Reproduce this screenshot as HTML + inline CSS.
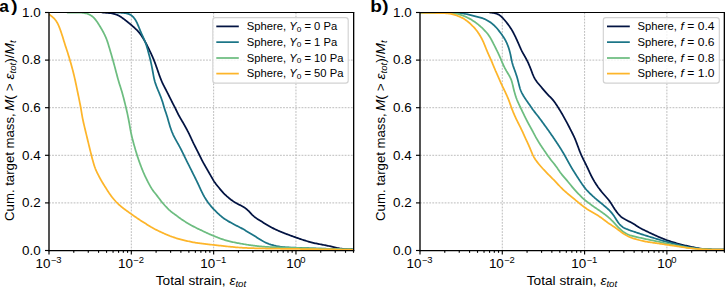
<!DOCTYPE html><html><head><meta charset="utf-8"><style>html,body{margin:0;padding:0;background:#fff;width:725px;height:289px;overflow:hidden}svg{display:block}text{font-family:"Liberation Sans",sans-serif;fill:#000}</style></head><body>
<svg width="725" height="289" viewBox="0 0 725 289">
<rect width="725" height="289" fill="#fff"/>
<defs>
<clipPath id="clipa"><rect x="49.00" y="12.50" width="304.50" height="238.00"/></clipPath>
<clipPath id="clipb"><rect x="420.00" y="12.50" width="304.40" height="238.00"/></clipPath>
</defs>
<g stroke="#b0b0b0" stroke-width="0.85" stroke-dasharray="1.8,1.28"><line x1="49.00" y1="202.90" x2="353.50" y2="202.90"/><line x1="49.00" y1="155.30" x2="353.50" y2="155.30"/><line x1="49.00" y1="107.70" x2="353.50" y2="107.70"/><line x1="49.00" y1="60.10" x2="353.50" y2="60.10"/><line x1="131.32" y1="12.50" x2="131.32" y2="250.50"/><line x1="213.64" y1="12.50" x2="213.64" y2="250.50"/><line x1="295.96" y1="12.50" x2="295.96" y2="250.50"/></g>
<g clip-path="url(#clipa)" fill="none" stroke-width="1.75" stroke-linejoin="round" stroke-linecap="round">
<path d="M102.00,12.50 L103.00,12.57 L104.00,12.63 L104.99,12.70 L105.99,12.77 L106.99,12.84 L107.98,12.92 L108.98,13.01 L109.97,13.12 L110.96,13.24 L111.94,13.40 L112.92,13.58 L113.88,13.81 L114.84,14.07 L115.77,14.38 L116.70,14.74 L117.60,15.14 L118.49,15.58 L119.37,16.06 L120.22,16.56 L121.07,17.09 L121.90,17.64 L122.71,18.21 L123.52,18.80 L124.33,19.39 L125.12,20.00 L125.91,20.61 L126.70,21.23 L127.48,21.85 L128.26,22.48 L129.04,23.11 L129.81,23.74 L130.58,24.38 L131.34,25.03 L132.10,25.68 L132.85,26.34 L133.60,27.00 L134.34,27.67 L135.08,28.35 L135.80,29.04 L136.51,29.73 L137.22,30.44 L137.90,31.17 L138.57,31.91 L139.21,32.67 L139.83,33.44 L140.43,34.24 L141.01,35.05 L141.56,35.88 L142.11,36.71 L142.65,37.55 L143.18,38.40 L143.70,39.26 L144.21,40.11 L144.71,40.98 L145.20,41.85 L145.68,42.72 L146.15,43.61 L146.62,44.49 L147.07,45.38 L147.52,46.28 L147.96,47.17 L148.40,48.07 L148.84,48.97 L149.28,49.87 L149.72,50.77 L150.15,51.67 L150.58,52.57 L151.00,53.48 L151.42,54.38 L151.84,55.29 L152.24,56.21 L152.65,57.12 L153.04,58.04 L153.43,58.96 L153.81,59.89 L154.18,60.81 L154.54,61.75 L154.90,62.68 L155.25,63.62 L155.60,64.55 L155.94,65.49 L156.28,66.44 L156.61,67.38 L156.94,68.32 L157.27,69.27 L157.60,70.21 L157.93,71.16 L158.25,72.10 L158.58,73.04 L158.91,73.99 L159.25,74.93 L159.59,75.87 L159.93,76.81 L160.28,77.75 L160.64,78.68 L161.01,79.61 L161.39,80.53 L161.78,81.45 L162.19,82.36 L162.61,83.27 L163.04,84.17 L163.48,85.06 L163.94,85.96 L164.39,86.84 L164.86,87.73 L165.32,88.62 L165.78,89.51 L166.24,90.39 L166.69,91.28 L167.15,92.17 L167.60,93.07 L168.05,93.96 L168.51,94.85 L168.96,95.74 L169.40,96.64 L169.85,97.53 L170.30,98.43 L170.74,99.32 L171.18,100.22 L171.63,101.11 L172.08,102.01 L172.53,102.90 L172.99,103.79 L173.45,104.67 L173.91,105.56 L174.38,106.44 L174.84,107.33 L175.29,108.22 L175.73,109.12 L176.17,110.01 L176.60,110.91 L177.02,111.81 L177.46,112.71 L177.90,113.60 L178.36,114.49 L178.84,115.37 L179.32,116.24 L179.82,117.11 L180.31,117.98 L180.82,118.84 L181.32,119.71 L181.82,120.57 L182.32,121.44 L182.82,122.31 L183.31,123.17 L183.80,124.05 L184.29,124.92 L184.78,125.79 L185.26,126.66 L185.75,127.54 L186.23,128.42 L186.71,129.29 L187.18,130.18 L187.65,131.06 L188.11,131.95 L188.57,132.84 L189.01,133.73 L189.45,134.63 L189.88,135.53 L190.31,136.43 L190.73,137.34 L191.15,138.25 L191.56,139.16 L191.98,140.07 L192.41,140.97 L192.83,141.88 L193.27,142.78 L193.70,143.68 L194.15,144.57 L194.59,145.47 L195.04,146.36 L195.49,147.25 L195.95,148.14 L196.40,149.04 L196.85,149.93 L197.30,150.82 L197.75,151.71 L198.20,152.61 L198.65,153.50 L199.09,154.40 L199.54,155.29 L199.98,156.19 L200.42,157.09 L200.86,157.98 L201.31,158.88 L201.76,159.77 L202.22,160.66 L202.69,161.54 L203.16,162.42 L203.64,163.30 L204.13,164.17 L204.62,165.04 L205.12,165.91 L205.61,166.78 L206.11,167.64 L206.61,168.51 L207.11,169.37 L207.61,170.24 L208.12,171.10 L208.62,171.97 L209.12,172.83 L209.62,173.70 L210.11,174.57 L210.60,175.44 L211.09,176.31 L211.58,177.18 L212.08,178.05 L212.58,178.92 L213.08,179.78 L213.60,180.63 L214.14,181.47 L214.70,182.30 L215.28,183.11 L215.87,183.91 L216.48,184.70 L217.10,185.49 L217.73,186.26 L218.36,187.04 L219.00,187.81 L219.64,188.58 L220.28,189.34 L220.92,190.11 L221.57,190.87 L222.22,191.62 L222.89,192.37 L223.57,193.10 L224.27,193.81 L224.98,194.51 L225.70,195.20 L226.43,195.88 L227.18,196.54 L227.94,197.19 L228.70,197.83 L229.48,198.46 L230.26,199.08 L231.05,199.69 L231.86,200.28 L232.68,200.85 L233.51,201.41 L234.35,201.95 L235.20,202.47 L236.06,202.97 L236.93,203.46 L237.81,203.94 L238.69,204.41 L239.57,204.88 L240.46,205.34 L241.34,205.80 L242.22,206.28 L243.09,206.76 L243.95,207.27 L244.78,207.81 L245.59,208.37 L246.38,208.97 L247.13,209.61 L247.86,210.28 L248.56,210.98 L249.25,211.70 L249.93,212.43 L250.61,213.16 L251.29,213.88 L251.99,214.59 L252.71,215.28 L253.44,215.95 L254.20,216.60 L254.98,217.22 L255.78,217.82 L256.59,218.39 L257.42,218.95 L258.26,219.49 L259.10,220.02 L259.95,220.55 L260.80,221.08 L261.65,221.60 L262.50,222.12 L263.36,222.65 L264.21,223.17 L265.06,223.69 L265.92,224.21 L266.77,224.72 L267.63,225.23 L268.50,225.74 L269.36,226.24 L270.23,226.73 L271.11,227.22 L271.99,227.69 L272.87,228.15 L273.76,228.60 L274.66,229.04 L275.56,229.47 L276.47,229.89 L277.38,230.30 L278.30,230.70 L279.22,231.09 L280.14,231.48 L281.06,231.86 L281.99,232.24 L282.92,232.61 L283.85,232.99 L284.77,233.35 L285.71,233.72 L286.64,234.07 L287.58,234.43 L288.51,234.78 L289.45,235.13 L290.39,235.47 L291.33,235.82 L292.27,236.16 L293.21,236.50 L294.15,236.84 L295.09,237.18 L296.03,237.52 L296.97,237.85 L297.91,238.18 L298.86,238.51 L299.81,238.83 L300.75,239.15 L301.70,239.47 L302.65,239.78 L303.60,240.09 L304.55,240.40 L305.51,240.70 L306.46,240.99 L307.42,241.28 L308.38,241.57 L309.34,241.84 L310.30,242.10 L311.27,242.36 L312.24,242.60 L313.21,242.84 L314.18,243.06 L315.16,243.28 L316.14,243.48 L317.12,243.68 L318.10,243.87 L319.08,244.06 L320.06,244.25 L321.05,244.44 L322.03,244.63 L323.01,244.82 L323.99,245.01 L324.97,245.20 L325.95,245.39 L326.94,245.59 L327.92,245.78 L328.89,245.99 L329.87,246.20 L330.85,246.41 L331.82,246.63 L332.80,246.86 L333.77,247.09 L334.74,247.32 L335.71,247.55 L336.69,247.77 L337.67,247.99 L338.64,248.18 L339.63,248.37 L340.61,248.53 L341.60,248.68 L342.59,248.82 L343.58,248.93 L344.57,249.04 L345.57,249.13 L346.57,249.21 L347.56,249.29 L348.56,249.35 L349.56,249.42 L350.55,249.48 L351.55,249.54 L352.55,249.61 L353.54,249.67 L354.54,249.74 L355.53,249.81 L356.52,249.89 L357.51,249.96 L358.00,250.00" stroke="#021342"/>
<path d="M116.50,12.50 L117.50,12.54 L118.50,12.59 L119.49,12.64 L120.49,12.70 L121.49,12.77 L122.48,12.85 L123.48,12.95 L124.47,13.06 L125.45,13.19 L126.42,13.35 L127.37,13.56 L128.30,13.83 L129.21,14.17 L130.07,14.59 L130.90,15.08 L131.69,15.64 L132.44,16.27 L133.14,16.95 L133.80,17.68 L134.41,18.45 L134.99,19.25 L135.52,20.08 L136.02,20.94 L136.49,21.82 L136.93,22.71 L137.35,23.61 L137.75,24.53 L138.14,25.45 L138.52,26.37 L138.89,27.30 L139.27,28.23 L139.65,29.15 L140.03,30.08 L140.41,31.00 L140.80,31.92 L141.19,32.84 L141.59,33.76 L141.99,34.67 L142.40,35.58 L142.82,36.49 L143.23,37.40 L143.65,38.31 L144.06,39.22 L144.46,40.14 L144.85,41.06 L145.22,41.98 L145.57,42.92 L145.90,43.86 L146.21,44.81 L146.51,45.76 L146.81,46.72 L147.09,47.67 L147.36,48.63 L147.64,49.60 L147.91,50.56 L148.17,51.52 L148.43,52.49 L148.70,53.45 L148.95,54.42 L149.21,55.39 L149.46,56.35 L149.71,57.32 L149.95,58.29 L150.19,59.26 L150.43,60.24 L150.66,61.21 L150.88,62.18 L151.10,63.16 L151.31,64.14 L151.51,65.12 L151.72,66.09 L151.91,67.07 L152.11,68.06 L152.30,69.04 L152.48,70.02 L152.66,71.00 L152.84,71.99 L153.01,72.97 L153.19,73.96 L153.36,74.94 L153.54,75.92 L153.73,76.91 L153.93,77.88 L154.14,78.86 L154.38,79.83 L154.63,80.80 L154.90,81.76 L155.20,82.71 L155.51,83.66 L155.84,84.60 L156.18,85.54 L156.53,86.47 L156.89,87.41 L157.26,88.33 L157.64,89.26 L158.01,90.19 L158.40,91.11 L158.78,92.03 L159.17,92.96 L159.55,93.88 L159.93,94.80 L160.31,95.73 L160.67,96.66 L161.03,97.59 L161.38,98.53 L161.72,99.47 L162.04,100.42 L162.36,101.36 L162.66,102.32 L162.96,103.27 L163.24,104.23 L163.52,105.19 L163.79,106.15 L164.07,107.11 L164.36,108.07 L164.65,109.02 L164.96,109.97 L165.28,110.91 L165.61,111.86 L165.93,112.80 L166.25,113.75 L166.56,114.69 L166.87,115.65 L167.16,116.60 L167.45,117.56 L167.73,118.52 L168.00,119.48 L168.28,120.44 L168.55,121.40 L168.82,122.37 L169.10,123.33 L169.38,124.29 L169.66,125.24 L169.95,126.20 L170.26,127.15 L170.57,128.10 L170.90,129.05 L171.24,129.98 L171.59,130.92 L171.95,131.85 L172.33,132.77 L172.73,133.69 L173.13,134.61 L173.55,135.51 L173.99,136.41 L174.44,137.30 L174.90,138.19 L175.37,139.07 L175.85,139.95 L176.34,140.82 L176.83,141.69 L177.32,142.56 L177.81,143.43 L178.30,144.30 L178.79,145.18 L179.27,146.05 L179.74,146.93 L180.21,147.82 L180.68,148.70 L181.13,149.59 L181.59,150.48 L182.04,151.38 L182.48,152.27 L182.92,153.17 L183.36,154.07 L183.80,154.97 L184.23,155.87 L184.66,156.77 L185.10,157.67 L185.53,158.57 L185.97,159.47 L186.41,160.37 L186.85,161.27 L187.30,162.16 L187.74,163.05 L188.20,163.95 L188.65,164.84 L189.10,165.73 L189.55,166.63 L190.00,167.52 L190.45,168.41 L190.89,169.31 L191.34,170.20 L191.78,171.10 L192.23,171.99 L192.67,172.89 L193.11,173.79 L193.56,174.68 L194.00,175.58 L194.45,176.47 L194.89,177.37 L195.34,178.26 L195.78,179.16 L196.23,180.05 L196.67,180.95 L197.11,181.85 L197.54,182.75 L197.97,183.66 L198.39,184.56 L198.81,185.47 L199.23,186.38 L199.65,187.29 L200.07,188.19 L200.48,189.10 L200.91,190.01 L201.33,190.91 L201.76,191.81 L202.20,192.71 L202.65,193.60 L203.11,194.49 L203.59,195.37 L204.07,196.24 L204.57,197.11 L205.09,197.97 L205.61,198.82 L206.14,199.66 L206.69,200.50 L207.25,201.32 L207.83,202.14 L208.41,202.95 L209.01,203.74 L209.63,204.53 L210.26,205.30 L210.91,206.07 L211.56,206.82 L212.23,207.57 L212.90,208.30 L213.58,209.04 L214.27,209.76 L214.97,210.48 L215.67,211.19 L216.37,211.90 L217.09,212.59 L217.82,213.28 L218.55,213.96 L219.29,214.63 L220.04,215.29 L220.80,215.95 L221.56,216.59 L222.34,217.22 L223.12,217.83 L223.92,218.43 L224.73,219.01 L225.56,219.56 L226.40,220.10 L227.25,220.62 L228.11,221.13 L228.98,221.62 L229.85,222.12 L230.72,222.60 L231.59,223.09 L232.47,223.57 L233.35,224.05 L234.23,224.52 L235.11,224.98 L236.00,225.43 L236.90,225.88 L237.79,226.32 L238.69,226.76 L239.58,227.21 L240.47,227.66 L241.35,228.14 L242.22,228.62 L243.09,229.11 L243.96,229.61 L244.82,230.12 L245.68,230.63 L246.54,231.14 L247.40,231.66 L248.25,232.17 L249.11,232.68 L249.97,233.20 L250.83,233.71 L251.68,234.23 L252.54,234.75 L253.39,235.27 L254.24,235.79 L255.09,236.33 L255.93,236.86 L256.77,237.41 L257.61,237.95 L258.45,238.50 L259.29,239.04 L260.13,239.57 L260.98,240.09 L261.84,240.60 L262.71,241.09 L263.59,241.56 L264.48,242.01 L265.38,242.44 L266.29,242.86 L267.21,243.25 L268.13,243.62 L269.06,243.98 L270.01,244.31 L270.95,244.62 L271.91,244.91 L272.87,245.18 L273.84,245.44 L274.81,245.67 L275.78,245.90 L276.76,246.10 L277.74,246.29 L278.72,246.46 L279.71,246.62 L280.70,246.76 L281.69,246.89 L282.68,247.00 L283.67,247.10 L284.67,247.19 L285.67,247.26 L286.66,247.33 L287.66,247.39 L288.66,247.45 L289.66,247.50 L290.66,247.55 L291.66,247.59 L292.66,247.63 L293.65,247.67 L294.65,247.71 L295.65,247.74 L296.65,247.78 L297.65,247.82 L298.65,247.85 L299.65,247.89 L300.65,247.93 L301.65,247.96 L302.65,248.00 L303.65,248.04 L304.65,248.08 L305.65,248.11 L306.65,248.15 L307.64,248.19 L308.64,248.22 L309.64,248.26 L310.64,248.30 L311.64,248.33 L312.64,248.37 L313.64,248.40 L314.64,248.43 L315.64,248.46 L316.64,248.50 L317.64,248.53 L318.64,248.56 L319.64,248.58 L320.64,248.61 L321.64,248.64 L322.64,248.66 L323.64,248.69 L324.64,248.71 L325.64,248.73 L326.64,248.75 L327.64,248.77 L328.64,248.79 L329.64,248.81 L330.64,248.83 L331.64,248.85 L332.64,248.87 L333.64,248.88 L334.63,248.90 L335.63,248.92 L336.63,248.94 L337.63,248.96 L338.63,248.98 L339.63,248.99 L340.63,249.01 L341.63,249.03 L342.63,249.05 L343.63,249.07 L344.63,249.09 L345.63,249.11 L346.63,249.13 L347.63,249.15 L348.63,249.17 L349.62,249.19 L350.61,249.21 L351.60,249.23 L352.58,249.25 L353.55,249.27 L354.52,249.29 L355.00,249.30" stroke="#1b7587"/>
<path d="M67.50,12.50 L68.50,12.50 L69.50,12.50 L70.50,12.50 L71.50,12.51 L72.50,12.51 L73.50,12.52 L74.50,12.52 L75.50,12.53 L76.50,12.55 L77.50,12.57 L78.50,12.59 L79.50,12.63 L80.49,12.68 L81.49,12.75 L82.48,12.84 L83.47,12.95 L84.46,13.09 L85.43,13.27 L86.40,13.49 L87.34,13.76 L88.27,14.08 L89.18,14.46 L90.06,14.90 L90.90,15.39 L91.71,15.94 L92.49,16.55 L93.23,17.20 L93.93,17.89 L94.61,18.61 L95.25,19.37 L95.87,20.15 L96.46,20.95 L97.03,21.77 L97.59,22.59 L98.13,23.43 L98.67,24.28 L99.20,25.12 L99.72,25.98 L100.24,26.83 L100.75,27.69 L101.26,28.55 L101.76,29.41 L102.26,30.28 L102.75,31.15 L103.22,32.03 L103.69,32.92 L104.14,33.81 L104.58,34.70 L105.01,35.61 L105.43,36.51 L105.83,37.43 L106.21,38.35 L106.58,39.28 L106.93,40.21 L107.27,41.15 L107.59,42.10 L107.89,43.05 L108.19,44.00 L108.49,44.96 L108.77,45.92 L109.06,46.88 L109.34,47.83 L109.63,48.79 L109.91,49.75 L110.20,50.71 L110.48,51.67 L110.76,52.63 L111.04,53.59 L111.32,54.55 L111.60,55.51 L111.88,56.47 L112.16,57.43 L112.43,58.39 L112.71,59.35 L112.98,60.32 L113.24,61.28 L113.51,62.24 L113.77,63.21 L114.04,64.17 L114.30,65.14 L114.55,66.11 L114.81,67.07 L115.07,68.04 L115.32,69.00 L115.58,69.97 L115.83,70.94 L116.09,71.91 L116.34,72.87 L116.60,73.84 L116.85,74.81 L117.11,75.77 L117.37,76.74 L117.63,77.70 L117.89,78.67 L118.16,79.63 L118.43,80.59 L118.71,81.55 L119.00,82.51 L119.29,83.47 L119.60,84.42 L119.90,85.37 L120.21,86.32 L120.51,87.28 L120.82,88.23 L121.12,89.18 L121.41,90.14 L121.70,91.09 L121.98,92.05 L122.25,93.02 L122.52,93.98 L122.79,94.94 L123.05,95.91 L123.30,96.88 L123.55,97.84 L123.81,98.81 L124.05,99.78 L124.30,100.75 L124.55,101.72 L124.79,102.69 L125.03,103.66 L125.27,104.63 L125.51,105.60 L125.74,106.57 L125.98,107.55 L126.21,108.52 L126.44,109.49 L126.66,110.47 L126.88,111.44 L127.10,112.42 L127.32,113.39 L127.53,114.37 L127.74,115.35 L127.94,116.33 L128.14,117.31 L128.34,118.29 L128.53,119.27 L128.72,120.25 L128.90,121.23 L129.08,122.22 L129.26,123.20 L129.43,124.19 L129.60,125.17 L129.77,126.16 L129.94,127.14 L130.12,128.13 L130.30,129.11 L130.48,130.09 L130.67,131.07 L130.87,132.06 L131.07,133.03 L131.28,134.01 L131.50,134.99 L131.72,135.96 L131.95,136.93 L132.19,137.91 L132.43,138.88 L132.68,139.84 L132.93,140.81 L133.19,141.78 L133.45,142.74 L133.71,143.71 L133.98,144.67 L134.25,145.64 L134.52,146.60 L134.79,147.56 L135.07,148.52 L135.35,149.48 L135.63,150.44 L135.92,151.40 L136.21,152.35 L136.50,153.31 L136.80,154.27 L137.10,155.22 L137.40,156.17 L137.71,157.12 L138.03,158.07 L138.34,159.02 L138.67,159.97 L139.00,160.91 L139.33,161.85 L139.67,162.79 L140.01,163.73 L140.36,164.67 L140.71,165.61 L141.07,166.54 L141.43,167.47 L141.79,168.40 L142.16,169.33 L142.54,170.26 L142.92,171.18 L143.30,172.11 L143.70,173.02 L144.10,173.94 L144.51,174.85 L144.93,175.76 L145.35,176.67 L145.78,177.57 L146.22,178.47 L146.66,179.37 L147.10,180.26 L147.56,181.15 L148.01,182.04 L148.47,182.93 L148.94,183.81 L149.41,184.69 L149.89,185.57 L150.38,186.44 L150.88,187.31 L151.40,188.16 L151.93,189.00 L152.49,189.82 L153.07,190.63 L153.67,191.43 L154.28,192.21 L154.91,192.99 L155.53,193.77 L156.15,194.56 L156.77,195.34 L157.38,196.13 L157.98,196.93 L158.58,197.73 L159.18,198.53 L159.78,199.33 L160.38,200.13 L160.99,200.92 L161.61,201.70 L162.24,202.48 L162.88,203.24 L163.54,204.00 L164.20,204.75 L164.86,205.49 L165.54,206.23 L166.22,206.96 L166.92,207.68 L167.61,208.40 L168.32,209.10 L169.04,209.80 L169.77,210.47 L170.51,211.13 L171.28,211.77 L172.06,212.39 L172.85,212.99 L173.66,213.57 L174.46,214.16 L175.27,214.74 L176.08,215.32 L176.88,215.92 L177.68,216.52 L178.48,217.11 L179.29,217.71 L180.09,218.30 L180.91,218.88 L181.73,219.44 L182.56,220.00 L183.39,220.55 L184.23,221.10 L185.08,221.63 L185.93,222.16 L186.78,222.68 L187.64,223.19 L188.50,223.70 L189.36,224.20 L190.23,224.69 L191.10,225.18 L191.98,225.66 L192.86,226.14 L193.75,226.60 L194.63,227.06 L195.52,227.52 L196.42,227.97 L197.31,228.41 L198.21,228.85 L199.11,229.28 L200.01,229.72 L200.92,230.15 L201.82,230.58 L202.72,231.01 L203.63,231.43 L204.53,231.86 L205.44,232.28 L206.34,232.70 L207.25,233.12 L208.16,233.53 L209.08,233.94 L209.99,234.35 L210.91,234.75 L211.82,235.15 L212.74,235.54 L213.67,235.92 L214.59,236.30 L215.52,236.68 L216.45,237.05 L217.38,237.41 L218.31,237.77 L219.25,238.12 L220.18,238.47 L221.13,238.81 L222.07,239.13 L223.02,239.45 L223.97,239.76 L224.92,240.05 L225.88,240.34 L226.84,240.61 L227.81,240.87 L228.78,241.12 L229.75,241.36 L230.72,241.60 L231.69,241.82 L232.67,242.04 L233.65,242.25 L234.62,242.45 L235.60,242.65 L236.59,242.84 L237.57,243.03 L238.55,243.22 L239.53,243.40 L240.52,243.58 L241.50,243.76 L242.49,243.93 L243.47,244.10 L244.46,244.26 L245.44,244.43 L246.43,244.58 L247.42,244.74 L248.41,244.89 L249.40,245.04 L250.39,245.18 L251.38,245.32 L252.37,245.46 L253.36,245.59 L254.35,245.71 L255.34,245.83 L256.34,245.95 L257.33,246.06 L258.32,246.16 L259.32,246.26 L260.31,246.36 L261.31,246.45 L262.31,246.53 L263.30,246.61 L264.30,246.69 L265.30,246.76 L266.30,246.82 L267.29,246.88 L268.29,246.94 L269.29,247.00 L270.29,247.05 L271.29,247.10 L272.29,247.15 L273.29,247.19 L274.28,247.24 L275.28,247.28 L276.28,247.32 L277.28,247.35 L278.28,247.39 L279.28,247.42 L280.28,247.45 L281.28,247.48 L282.28,247.51 L283.28,247.54 L284.28,247.57 L285.28,247.60 L286.28,247.63 L287.28,247.65 L288.28,247.68 L289.28,247.71 L290.28,247.73 L291.28,247.76 L292.28,247.78 L293.28,247.81 L294.28,247.84 L295.27,247.87 L296.27,247.89 L297.27,247.92 L298.27,247.95 L299.27,247.98 L300.27,248.01 L301.27,248.05 L302.27,248.08 L303.27,248.11 L304.27,248.15 L305.27,248.18 L306.27,248.22 L307.27,248.25 L308.27,248.29 L309.27,248.33 L310.27,248.36 L311.27,248.40 L312.27,248.44 L313.26,248.47 L314.26,248.51 L315.26,248.54 L316.26,248.58 L317.26,248.61 L318.26,248.64 L319.26,248.67 L320.26,248.70 L321.26,248.73 L322.26,248.76 L323.26,248.79 L324.26,248.82 L325.26,248.84 L326.26,248.87 L327.26,248.89 L328.26,248.92 L329.26,248.94 L330.26,248.97 L331.26,248.99 L332.26,249.01 L333.26,249.04 L334.26,249.06 L335.26,249.09 L336.26,249.11 L337.26,249.13 L338.25,249.16 L339.25,249.18 L340.25,249.21 L341.25,249.23 L342.25,249.26 L343.25,249.29 L344.25,249.31 L345.25,249.34 L346.25,249.36 L347.25,249.39 L348.25,249.42 L349.24,249.44 L350.23,249.47 L351.21,249.50 L352.17,249.52 L353.12,249.55 L354.07,249.57 L355.00,249.60" stroke="#6dbd80"/>
<path d="M46.00,12.80 L46.88,13.27 L47.76,13.75 L48.62,14.24 L49.48,14.75 L50.31,15.29 L51.12,15.86 L51.91,16.47 L52.67,17.10 L53.40,17.77 L54.09,18.48 L54.76,19.21 L55.39,19.98 L55.98,20.77 L56.53,21.59 L57.05,22.44 L57.53,23.30 L57.98,24.19 L58.41,25.09 L58.81,26.00 L59.18,26.93 L59.55,27.86 L59.90,28.79 L60.24,29.73 L60.58,30.67 L60.91,31.62 L61.23,32.56 L61.55,33.51 L61.87,34.46 L62.18,35.41 L62.48,36.36 L62.78,37.31 L63.08,38.27 L63.37,39.23 L63.66,40.18 L63.95,41.14 L64.24,42.10 L64.54,43.05 L64.84,44.01 L65.14,44.96 L65.45,45.91 L65.76,46.86 L66.07,47.81 L66.39,48.76 L66.70,49.71 L67.01,50.66 L67.31,51.61 L67.62,52.56 L67.92,53.52 L68.21,54.47 L68.51,55.43 L68.80,56.38 L69.09,57.34 L69.38,58.30 L69.67,59.26 L69.95,60.21 L70.23,61.17 L70.51,62.13 L70.79,63.09 L71.06,64.06 L71.34,65.02 L71.60,65.98 L71.87,66.95 L72.13,67.91 L72.39,68.88 L72.64,69.85 L72.89,70.81 L73.14,71.78 L73.38,72.75 L73.62,73.72 L73.86,74.70 L74.09,75.67 L74.32,76.64 L74.54,77.61 L74.77,78.59 L74.99,79.56 L75.21,80.54 L75.42,81.52 L75.63,82.49 L75.84,83.47 L76.05,84.45 L76.26,85.43 L76.46,86.41 L76.66,87.39 L76.86,88.37 L77.07,89.35 L77.27,90.33 L77.47,91.30 L77.67,92.28 L77.88,93.26 L78.08,94.24 L78.28,95.22 L78.48,96.20 L78.69,97.18 L78.89,98.16 L79.09,99.14 L79.29,100.12 L79.49,101.10 L79.68,102.08 L79.88,103.06 L80.07,104.04 L80.26,105.02 L80.45,106.01 L80.63,106.99 L80.80,107.97 L80.98,108.96 L81.14,109.94 L81.31,110.93 L81.47,111.92 L81.63,112.90 L81.80,113.89 L81.97,114.88 L82.14,115.86 L82.32,116.84 L82.50,117.83 L82.70,118.81 L82.90,119.79 L83.10,120.77 L83.32,121.74 L83.53,122.72 L83.75,123.69 L83.98,124.67 L84.21,125.64 L84.44,126.61 L84.67,127.59 L84.90,128.56 L85.13,129.53 L85.37,130.50 L85.60,131.48 L85.84,132.45 L86.07,133.42 L86.31,134.39 L86.54,135.36 L86.78,136.34 L87.01,137.31 L87.24,138.28 L87.48,139.25 L87.71,140.23 L87.95,141.20 L88.18,142.17 L88.42,143.14 L88.65,144.11 L88.89,145.09 L89.12,146.06 L89.36,147.03 L89.60,148.00 L89.83,148.97 L90.07,149.94 L90.31,150.91 L90.55,151.89 L90.79,152.86 L91.04,153.83 L91.28,154.79 L91.53,155.76 L91.78,156.73 L92.03,157.70 L92.29,158.67 L92.55,159.63 L92.81,160.60 L93.08,161.56 L93.35,162.52 L93.63,163.48 L93.92,164.44 L94.22,165.39 L94.53,166.34 L94.86,167.28 L95.20,168.22 L95.56,169.15 L95.95,170.07 L96.35,170.98 L96.77,171.89 L97.20,172.79 L97.64,173.69 L98.09,174.58 L98.55,175.47 L99.01,176.36 L99.48,177.24 L99.95,178.12 L100.43,179.00 L100.91,179.87 L101.41,180.74 L101.91,181.61 L102.42,182.47 L102.94,183.32 L103.46,184.17 L103.99,185.02 L104.52,185.87 L105.05,186.71 L105.59,187.56 L106.12,188.41 L106.65,189.25 L107.19,190.10 L107.73,190.94 L108.27,191.78 L108.82,192.61 L109.38,193.44 L109.95,194.26 L110.53,195.07 L111.12,195.88 L111.73,196.67 L112.34,197.46 L112.96,198.24 L113.60,199.02 L114.24,199.78 L114.90,200.53 L115.57,201.27 L116.25,202.00 L116.95,202.71 L117.67,203.41 L118.39,204.09 L119.13,204.77 L119.88,205.43 L120.64,206.08 L121.41,206.72 L122.18,207.35 L122.96,207.97 L123.75,208.59 L124.54,209.19 L125.34,209.79 L126.15,210.39 L126.96,210.97 L127.77,211.56 L128.58,212.14 L129.40,212.72 L130.22,213.29 L131.03,213.87 L131.85,214.45 L132.66,215.03 L133.48,215.60 L134.30,216.18 L135.12,216.76 L135.94,217.33 L136.76,217.90 L137.58,218.46 L138.41,219.02 L139.24,219.58 L140.08,220.13 L140.92,220.67 L141.76,221.20 L142.61,221.74 L143.46,222.27 L144.30,222.80 L145.15,223.33 L145.99,223.86 L146.84,224.40 L147.68,224.94 L148.53,225.47 L149.38,226.00 L150.23,226.52 L151.08,227.04 L151.95,227.54 L152.82,228.03 L153.69,228.51 L154.57,228.98 L155.46,229.44 L156.35,229.89 L157.25,230.33 L158.15,230.77 L159.06,231.20 L159.96,231.62 L160.87,232.04 L161.78,232.46 L162.69,232.87 L163.60,233.28 L164.51,233.69 L165.43,234.09 L166.35,234.49 L167.27,234.88 L168.19,235.26 L169.11,235.64 L170.04,236.01 L170.98,236.36 L171.92,236.71 L172.86,237.05 L173.80,237.37 L174.75,237.69 L175.70,238.00 L176.65,238.30 L177.61,238.58 L178.57,238.86 L179.53,239.13 L180.50,239.39 L181.47,239.64 L182.44,239.89 L183.41,240.13 L184.38,240.36 L185.35,240.59 L186.32,240.82 L187.30,241.05 L188.27,241.27 L189.25,241.48 L190.23,241.69 L191.21,241.89 L192.19,242.08 L193.17,242.27 L194.16,242.45 L195.14,242.62 L196.13,242.78 L197.11,242.94 L198.10,243.08 L199.09,243.23 L200.08,243.36 L201.07,243.49 L202.07,243.62 L203.06,243.74 L204.05,243.86 L205.04,243.97 L206.04,244.09 L207.03,244.20 L208.03,244.31 L209.02,244.42 L210.01,244.53 L211.01,244.64 L212.00,244.75 L213.00,244.86 L213.99,244.97 L214.98,245.08 L215.98,245.19 L216.97,245.30 L217.97,245.41 L218.96,245.52 L219.95,245.63 L220.95,245.74 L221.94,245.85 L222.93,245.96 L223.93,246.07 L224.92,246.18 L225.92,246.29 L226.91,246.39 L227.91,246.50 L228.90,246.60 L229.90,246.70 L230.89,246.80 L231.89,246.90 L232.88,246.99 L233.88,247.08 L234.87,247.17 L235.87,247.26 L236.87,247.34 L237.86,247.42 L238.86,247.50 L239.86,247.57 L240.85,247.64 L241.85,247.71 L242.85,247.77 L243.85,247.83 L244.85,247.88 L245.85,247.93 L246.84,247.98 L247.84,248.02 L248.84,248.07 L249.84,248.10 L250.84,248.14 L251.84,248.17 L252.84,248.21 L253.84,248.24 L254.84,248.26 L255.84,248.29 L256.84,248.31 L257.84,248.34 L258.84,248.36 L259.84,248.39 L260.84,248.41 L261.84,248.43 L262.84,248.45 L263.84,248.47 L264.84,248.50 L265.84,248.52 L266.84,248.54 L267.84,248.56 L268.84,248.58 L269.84,248.60 L270.84,248.61 L271.83,248.63 L272.83,248.65 L273.83,248.66 L274.83,248.68 L275.83,248.69 L276.83,248.71 L277.83,248.72 L278.83,248.74 L279.83,248.75 L280.83,248.76 L281.83,248.78 L282.83,248.79 L283.83,248.80 L284.83,248.81 L285.83,248.83 L286.83,248.84 L287.83,248.85 L288.83,248.86 L289.83,248.87 L290.83,248.89 L291.83,248.90 L292.83,248.91 L293.83,248.92 L294.83,248.93 L295.83,248.95 L296.83,248.96 L297.83,248.97 L298.83,248.99 L299.83,249.00 L300.83,249.01 L301.83,249.03 L302.83,249.04 L303.83,249.05 L304.83,249.07 L305.83,249.08 L306.83,249.09 L307.83,249.10 L308.83,249.12 L309.83,249.13 L310.83,249.14 L311.83,249.16 L312.83,249.17 L313.83,249.18 L314.83,249.20 L315.83,249.21 L316.83,249.22 L317.83,249.23 L318.83,249.25 L319.83,249.26 L320.83,249.27 L321.83,249.29 L322.83,249.30 L323.83,249.31 L324.83,249.33 L325.83,249.34 L326.83,249.36 L327.83,249.37 L328.83,249.38 L329.83,249.40 L330.83,249.41 L331.83,249.43 L332.83,249.44 L333.83,249.46 L334.83,249.47 L335.83,249.49 L336.83,249.50 L337.83,249.52 L338.83,249.54 L339.83,249.55 L340.83,249.57 L341.83,249.58 L342.83,249.60 L343.83,249.62 L344.83,249.63 L345.83,249.65 L346.83,249.67 L347.82,249.68 L348.82,249.70 L349.81,249.71 L350.78,249.73 L351.75,249.75 L352.69,249.76 L353.63,249.78 L354.54,249.79 L355.00,249.80" stroke="#fdb52a"/>
</g>
<g stroke="#000"><line x1="49.00" y1="12.40" x2="49.00" y2="251.20" stroke-width="1.35"/><line x1="353.65" y1="12.40" x2="353.65" y2="251.20" stroke-width="1.35"/><line x1="48.35" y1="12.55" x2="354.30" y2="12.55" stroke-width="1.1"/><line x1="48.35" y1="250.60" x2="354.30" y2="250.60" stroke-width="1.1"/></g>
<g stroke="#000" stroke-width="1.15"><line x1="45.00" y1="250.50" x2="49.00" y2="250.50"/><line x1="45.00" y1="202.90" x2="49.00" y2="202.90"/><line x1="45.00" y1="155.30" x2="49.00" y2="155.30"/><line x1="45.00" y1="107.70" x2="49.00" y2="107.70"/><line x1="45.00" y1="60.10" x2="49.00" y2="60.10"/><line x1="45.00" y1="12.50" x2="49.00" y2="12.50"/><line x1="49.00" y1="250.50" x2="49.00" y2="254.50"/><line x1="131.32" y1="250.50" x2="131.32" y2="254.50"/><line x1="213.64" y1="250.50" x2="213.64" y2="254.50"/><line x1="295.96" y1="250.50" x2="295.96" y2="254.50"/><line x1="73.78" y1="250.50" x2="73.78" y2="252.80"/><line x1="88.28" y1="250.50" x2="88.28" y2="252.80"/><line x1="98.56" y1="250.50" x2="98.56" y2="252.80"/><line x1="106.54" y1="250.50" x2="106.54" y2="252.80"/><line x1="113.06" y1="250.50" x2="113.06" y2="252.80"/><line x1="118.57" y1="250.50" x2="118.57" y2="252.80"/><line x1="123.34" y1="250.50" x2="123.34" y2="252.80"/><line x1="127.55" y1="250.50" x2="127.55" y2="252.80"/><line x1="156.10" y1="250.50" x2="156.10" y2="252.80"/><line x1="170.60" y1="250.50" x2="170.60" y2="252.80"/><line x1="180.88" y1="250.50" x2="180.88" y2="252.80"/><line x1="188.86" y1="250.50" x2="188.86" y2="252.80"/><line x1="195.38" y1="250.50" x2="195.38" y2="252.80"/><line x1="200.89" y1="250.50" x2="200.89" y2="252.80"/><line x1="205.66" y1="250.50" x2="205.66" y2="252.80"/><line x1="209.87" y1="250.50" x2="209.87" y2="252.80"/><line x1="238.42" y1="250.50" x2="238.42" y2="252.80"/><line x1="252.92" y1="250.50" x2="252.92" y2="252.80"/><line x1="263.20" y1="250.50" x2="263.20" y2="252.80"/><line x1="271.18" y1="250.50" x2="271.18" y2="252.80"/><line x1="277.70" y1="250.50" x2="277.70" y2="252.80"/><line x1="283.21" y1="250.50" x2="283.21" y2="252.80"/><line x1="287.98" y1="250.50" x2="287.98" y2="252.80"/><line x1="292.19" y1="250.50" x2="292.19" y2="252.80"/><line x1="320.74" y1="250.50" x2="320.74" y2="252.80"/><line x1="335.24" y1="250.50" x2="335.24" y2="252.80"/><line x1="345.52" y1="250.50" x2="345.52" y2="252.80"/><line x1="353.50" y1="250.50" x2="353.50" y2="252.80"/></g>
<g stroke="#b0b0b0" stroke-width="0.85" stroke-dasharray="1.8,1.28"><line x1="420.00" y1="202.90" x2="724.40" y2="202.90"/><line x1="420.00" y1="155.30" x2="724.40" y2="155.30"/><line x1="420.00" y1="107.70" x2="724.40" y2="107.70"/><line x1="420.00" y1="60.10" x2="724.40" y2="60.10"/><line x1="502.29" y1="12.50" x2="502.29" y2="250.50"/><line x1="584.59" y1="12.50" x2="584.59" y2="250.50"/><line x1="666.88" y1="12.50" x2="666.88" y2="250.50"/></g>
<g clip-path="url(#clipb)" fill="none" stroke-width="1.75" stroke-linejoin="round" stroke-linecap="round">
<path d="M489.50,12.50 L490.49,12.61 L491.48,12.72 L492.47,12.84 L493.46,12.98 L494.43,13.15 L495.39,13.36 L496.33,13.63 L497.24,13.96 L498.12,14.36 L498.98,14.83 L499.79,15.37 L500.58,15.96 L501.32,16.60 L502.04,17.27 L502.74,17.98 L503.41,18.72 L504.07,19.46 L504.72,20.22 L505.36,20.99 L505.99,21.77 L506.61,22.55 L507.23,23.34 L507.84,24.13 L508.44,24.93 L509.03,25.74 L509.60,26.55 L510.17,27.38 L510.72,28.21 L511.25,29.05 L511.77,29.90 L512.28,30.77 L512.77,31.63 L513.25,32.51 L513.71,33.40 L514.17,34.29 L514.61,35.18 L515.05,36.08 L515.48,36.98 L515.91,37.89 L516.34,38.79 L516.76,39.70 L517.17,40.61 L517.58,41.52 L517.99,42.43 L518.39,43.35 L518.79,44.26 L519.18,45.18 L519.58,46.10 L519.97,47.02 L520.37,47.94 L520.78,48.85 L521.20,49.75 L521.64,50.65 L522.10,51.54 L522.56,52.42 L523.04,53.30 L523.53,54.17 L524.03,55.04 L524.53,55.90 L525.02,56.77 L525.52,57.64 L526.00,58.51 L526.48,59.39 L526.94,60.28 L527.39,61.17 L527.82,62.07 L528.24,62.97 L528.64,63.89 L529.04,64.80 L529.43,65.72 L529.81,66.65 L530.18,67.58 L530.55,68.51 L530.91,69.44 L531.26,70.37 L531.61,71.31 L531.96,72.25 L532.31,73.18 L532.67,74.11 L533.05,75.03 L533.45,75.95 L533.88,76.85 L534.33,77.73 L534.81,78.60 L535.32,79.46 L535.86,80.30 L536.42,81.11 L537.01,81.92 L537.62,82.71 L538.25,83.48 L538.89,84.25 L539.53,85.01 L540.18,85.77 L540.83,86.54 L541.47,87.30 L542.12,88.06 L542.76,88.83 L543.40,89.60 L544.05,90.36 L544.70,91.12 L545.35,91.87 L546.01,92.62 L546.68,93.37 L547.36,94.10 L548.04,94.83 L548.74,95.55 L549.43,96.27 L550.13,96.98 L550.83,97.70 L551.52,98.42 L552.20,99.15 L552.86,99.90 L553.49,100.66 L554.11,101.44 L554.71,102.24 L555.28,103.05 L555.85,103.88 L556.40,104.71 L556.94,105.55 L557.48,106.39 L558.01,107.24 L558.55,108.08 L559.08,108.93 L559.61,109.78 L560.14,110.63 L560.66,111.48 L561.17,112.34 L561.68,113.20 L562.18,114.06 L562.67,114.94 L563.15,115.81 L563.64,116.68 L564.12,117.56 L564.60,118.44 L565.08,119.31 L565.56,120.19 L566.05,121.06 L566.53,121.94 L567.01,122.82 L567.48,123.70 L567.95,124.58 L568.42,125.47 L568.87,126.35 L569.33,127.25 L569.78,128.14 L570.23,129.03 L570.68,129.92 L571.13,130.81 L571.59,131.71 L572.04,132.60 L572.49,133.49 L572.94,134.38 L573.38,135.28 L573.81,136.18 L574.23,137.09 L574.64,138.00 L575.04,138.91 L575.42,139.84 L575.79,140.77 L576.16,141.70 L576.51,142.63 L576.86,143.57 L577.21,144.50 L577.56,145.44 L577.91,146.38 L578.25,147.32 L578.60,148.26 L578.95,149.19 L579.30,150.13 L579.66,151.06 L580.02,151.99 L580.40,152.92 L580.78,153.84 L581.18,154.76 L581.59,155.67 L582.01,156.58 L582.44,157.48 L582.88,158.38 L583.32,159.27 L583.77,160.17 L584.22,161.06 L584.66,161.95 L585.11,162.85 L585.55,163.75 L586.00,164.64 L586.43,165.54 L586.87,166.44 L587.29,167.35 L587.72,168.25 L588.14,169.16 L588.56,170.07 L588.97,170.98 L589.39,171.89 L589.81,172.79 L590.24,173.70 L590.67,174.60 L591.11,175.50 L591.56,176.39 L592.02,177.27 L592.49,178.16 L592.97,179.03 L593.47,179.90 L593.97,180.76 L594.48,181.62 L595.01,182.47 L595.54,183.32 L596.08,184.16 L596.63,184.99 L597.19,185.82 L597.75,186.65 L598.33,187.46 L598.91,188.28 L599.51,189.08 L600.11,189.87 L600.73,190.66 L601.35,191.44 L601.99,192.21 L602.64,192.97 L603.29,193.73 L603.95,194.48 L604.61,195.22 L605.28,195.97 L605.94,196.72 L606.59,197.48 L607.24,198.24 L607.88,199.01 L608.51,199.79 L609.12,200.57 L609.71,201.37 L610.29,202.19 L610.85,203.01 L611.39,203.85 L611.92,204.69 L612.45,205.55 L612.97,206.40 L613.49,207.25 L614.03,208.09 L614.58,208.92 L615.14,209.75 L615.72,210.56 L616.31,211.37 L616.91,212.16 L617.52,212.95 L618.14,213.73 L618.79,214.48 L619.45,215.22 L620.15,215.92 L620.88,216.58 L621.64,217.21 L622.44,217.79 L623.26,218.34 L624.11,218.85 L624.98,219.34 L625.86,219.81 L626.75,220.26 L627.64,220.71 L628.53,221.16 L629.43,221.60 L630.31,222.06 L631.20,222.53 L632.07,223.01 L632.93,223.51 L633.79,224.03 L634.63,224.56 L635.47,225.10 L636.31,225.64 L637.15,226.19 L637.99,226.72 L638.84,227.25 L639.70,227.76 L640.57,228.25 L641.44,228.72 L642.33,229.18 L643.22,229.64 L644.12,230.08 L645.01,230.52 L645.91,230.95 L646.82,231.38 L647.72,231.82 L648.62,232.25 L649.52,232.68 L650.43,233.11 L651.33,233.54 L652.24,233.96 L653.14,234.38 L654.05,234.80 L654.96,235.21 L655.87,235.62 L656.79,236.03 L657.70,236.43 L658.62,236.83 L659.53,237.23 L660.45,237.62 L661.38,238.01 L662.30,238.39 L663.23,238.77 L664.16,239.14 L665.09,239.50 L666.02,239.86 L666.96,240.20 L667.90,240.54 L668.84,240.87 L669.79,241.19 L670.74,241.50 L671.69,241.80 L672.65,242.10 L673.60,242.39 L674.56,242.68 L675.52,242.96 L676.49,243.23 L677.45,243.50 L678.41,243.76 L679.38,244.02 L680.35,244.28 L681.31,244.52 L682.28,244.77 L683.25,245.01 L684.23,245.24 L685.20,245.48 L686.17,245.70 L687.15,245.93 L688.12,246.15 L689.10,246.37 L690.07,246.59 L691.05,246.81 L692.03,247.02 L693.00,247.23 L693.98,247.43 L694.96,247.63 L695.94,247.82 L696.93,248.01 L697.91,248.18 L698.90,248.35 L699.88,248.50 L700.87,248.64 L701.86,248.77 L702.86,248.89 L703.85,248.99 L704.85,249.09 L705.84,249.17 L706.84,249.24 L707.84,249.31 L708.83,249.37 L709.83,249.42 L710.83,249.46 L711.83,249.50 L712.83,249.53 L713.83,249.56 L714.83,249.59 L715.83,249.61 L716.83,249.63 L717.83,249.65 L718.83,249.67 L719.83,249.68 L720.83,249.70 L721.83,249.71 L722.82,249.72 L723.82,249.73 L724.81,249.74 L725.78,249.75 L726.75,249.76 L727.69,249.77 L728.63,249.78 L729.54,249.79 L730.00,249.80" stroke="#021342"/>
<path d="M410.00,12.50 L411.00,12.50 L412.00,12.50 L413.00,12.50 L414.00,12.50 L415.00,12.51 L416.00,12.51 L417.00,12.51 L418.00,12.51 L419.00,12.51 L420.00,12.51 L421.00,12.51 L422.00,12.51 L423.00,12.51 L424.00,12.51 L425.00,12.51 L426.00,12.51 L427.00,12.51 L428.00,12.51 L429.00,12.52 L430.00,12.52 L431.00,12.52 L432.00,12.52 L433.00,12.52 L434.00,12.52 L435.00,12.52 L436.00,12.52 L437.00,12.53 L438.00,12.53 L439.00,12.53 L440.00,12.53 L441.00,12.53 L442.00,12.54 L443.00,12.54 L444.00,12.54 L445.00,12.54 L446.00,12.55 L447.00,12.55 L448.00,12.56 L449.00,12.56 L450.00,12.57 L451.00,12.57 L452.00,12.58 L452.99,12.59 L453.98,12.61 L454.95,12.63 L455.90,12.67 L456.83,12.72 L457.73,12.78 L458.61,12.87 L459.47,12.97 L460.33,13.09 L461.21,13.22 L462.11,13.36 L463.03,13.50 L463.97,13.65 L464.93,13.82 L465.90,14.00 L466.87,14.20 L467.84,14.42 L468.81,14.66 L469.78,14.91 L470.74,15.17 L471.70,15.44 L472.67,15.70 L473.63,15.96 L474.60,16.20 L475.57,16.43 L476.55,16.66 L477.52,16.88 L478.49,17.11 L479.46,17.34 L480.42,17.60 L481.38,17.88 L482.32,18.19 L483.26,18.53 L484.18,18.90 L485.10,19.29 L486.00,19.72 L486.89,20.17 L487.76,20.65 L488.62,21.15 L489.46,21.68 L490.28,22.24 L491.09,22.83 L491.88,23.44 L492.65,24.07 L493.40,24.72 L494.14,25.39 L494.86,26.08 L495.55,26.79 L496.23,27.52 L496.88,28.27 L497.53,29.04 L498.15,29.81 L498.77,30.60 L499.39,31.38 L499.99,32.18 L500.60,32.98 L501.19,33.78 L501.78,34.58 L502.36,35.40 L502.93,36.22 L503.49,37.05 L504.03,37.88 L504.55,38.73 L505.05,39.60 L505.53,40.47 L505.98,41.36 L506.42,42.26 L506.83,43.17 L507.22,44.08 L507.59,45.01 L507.95,45.94 L508.29,46.88 L508.62,47.83 L508.93,48.77 L509.23,49.73 L509.51,50.69 L509.77,51.65 L510.02,52.62 L510.25,53.59 L510.47,54.56 L510.67,55.54 L510.87,56.52 L511.06,57.50 L511.24,58.49 L511.44,59.47 L511.64,60.44 L511.86,61.42 L512.09,62.39 L512.35,63.35 L512.63,64.31 L512.92,65.26 L513.24,66.21 L513.57,67.15 L513.90,68.09 L514.24,69.03 L514.59,69.97 L514.93,70.91 L515.26,71.85 L515.60,72.80 L515.92,73.74 L516.24,74.69 L516.55,75.64 L516.85,76.59 L517.14,77.55 L517.42,78.51 L517.68,79.47 L517.93,80.44 L518.18,81.41 L518.42,82.38 L518.65,83.35 L518.90,84.32 L519.14,85.29 L519.40,86.25 L519.67,87.22 L519.95,88.17 L520.26,89.12 L520.60,90.06 L520.96,90.98 L521.36,91.89 L521.78,92.79 L522.24,93.68 L522.71,94.55 L523.21,95.42 L523.73,96.27 L524.26,97.12 L524.80,97.96 L525.35,98.79 L525.91,99.62 L526.48,100.45 L527.05,101.27 L527.62,102.08 L528.20,102.90 L528.78,103.72 L529.35,104.53 L529.92,105.36 L530.49,106.18 L531.05,107.01 L531.61,107.83 L532.18,108.65 L532.75,109.47 L533.34,110.28 L533.94,111.08 L534.55,111.87 L535.17,112.65 L535.79,113.43 L536.41,114.21 L537.04,114.99 L537.66,115.78 L538.27,116.57 L538.88,117.36 L539.49,118.16 L540.09,118.96 L540.68,119.76 L541.27,120.57 L541.86,121.38 L542.45,122.18 L543.04,122.99 L543.62,123.80 L544.21,124.61 L544.80,125.42 L545.38,126.23 L545.97,127.04 L546.55,127.86 L547.14,128.67 L547.72,129.48 L548.30,130.29 L548.88,131.11 L549.45,131.93 L550.03,132.74 L550.60,133.56 L551.17,134.39 L551.74,135.21 L552.31,136.03 L552.87,136.86 L553.43,137.68 L553.99,138.51 L554.55,139.34 L555.11,140.17 L555.67,141.00 L556.22,141.83 L556.78,142.66 L557.33,143.50 L557.89,144.33 L558.44,145.17 L558.98,146.00 L559.53,146.84 L560.06,147.69 L560.60,148.53 L561.12,149.38 L561.65,150.23 L562.16,151.09 L562.68,151.95 L563.19,152.81 L563.69,153.67 L564.19,154.54 L564.69,155.41 L565.18,156.28 L565.66,157.15 L566.15,158.02 L566.63,158.90 L567.11,159.78 L567.59,160.66 L568.07,161.53 L568.55,162.41 L569.04,163.28 L569.53,164.15 L570.02,165.02 L570.52,165.89 L571.02,166.76 L571.53,167.62 L572.04,168.47 L572.56,169.33 L573.09,170.18 L573.61,171.03 L574.14,171.88 L574.68,172.72 L575.21,173.57 L575.75,174.41 L576.29,175.26 L576.82,176.10 L577.36,176.94 L577.91,177.78 L578.45,178.62 L579.00,179.46 L579.54,180.29 L580.09,181.13 L580.65,181.96 L581.20,182.79 L581.76,183.62 L582.33,184.45 L582.90,185.27 L583.48,186.08 L584.08,186.88 L584.68,187.67 L585.31,188.45 L585.95,189.21 L586.61,189.97 L587.28,190.70 L587.96,191.43 L588.66,192.15 L589.37,192.85 L590.08,193.56 L590.80,194.25 L591.52,194.94 L592.25,195.62 L592.98,196.30 L593.72,196.98 L594.47,197.64 L595.22,198.30 L595.98,198.95 L596.74,199.59 L597.51,200.23 L598.29,200.87 L599.06,201.50 L599.84,202.13 L600.61,202.76 L601.39,203.39 L602.16,204.03 L602.93,204.67 L603.69,205.31 L604.46,205.96 L605.22,206.61 L605.97,207.26 L606.72,207.92 L607.47,208.59 L608.20,209.26 L608.93,209.95 L609.64,210.65 L610.34,211.36 L611.01,212.09 L611.66,212.85 L612.29,213.62 L612.89,214.41 L613.47,215.22 L614.04,216.04 L614.58,216.88 L615.12,217.72 L615.65,218.57 L616.18,219.41 L616.71,220.26 L617.25,221.10 L617.81,221.93 L618.38,222.74 L618.98,223.53 L619.61,224.29 L620.28,225.01 L620.99,225.68 L621.74,226.31 L622.53,226.89 L623.36,227.42 L624.22,227.91 L625.10,228.36 L626.00,228.78 L626.92,229.17 L627.84,229.54 L628.77,229.90 L629.71,230.24 L630.65,230.58 L631.60,230.90 L632.55,231.23 L633.49,231.54 L634.44,231.86 L635.39,232.17 L636.34,232.49 L637.29,232.80 L638.24,233.12 L639.19,233.43 L640.14,233.74 L641.09,234.06 L642.04,234.37 L642.99,234.68 L643.94,234.99 L644.89,235.29 L645.85,235.60 L646.80,235.90 L647.75,236.19 L648.71,236.49 L649.67,236.78 L650.62,237.07 L651.58,237.37 L652.54,237.66 L653.49,237.95 L654.45,238.23 L655.41,238.52 L656.36,238.81 L657.32,239.10 L658.28,239.39 L659.24,239.68 L660.19,239.97 L661.15,240.26 L662.11,240.54 L663.07,240.83 L664.03,241.11 L664.99,241.38 L665.95,241.66 L666.91,241.93 L667.88,242.19 L668.84,242.45 L669.81,242.71 L670.78,242.97 L671.74,243.22 L672.71,243.46 L673.68,243.71 L674.65,243.95 L675.62,244.19 L676.59,244.43 L677.57,244.67 L678.54,244.90 L679.51,245.14 L680.48,245.37 L681.46,245.60 L682.43,245.83 L683.40,246.05 L684.38,246.27 L685.36,246.49 L686.33,246.69 L687.31,246.89 L688.29,247.09 L689.28,247.27 L690.26,247.45 L691.25,247.61 L692.23,247.77 L693.22,247.92 L694.21,248.06 L695.20,248.20 L696.19,248.32 L697.19,248.45 L698.18,248.56 L699.17,248.67 L700.17,248.77 L701.16,248.87 L702.16,248.96 L703.15,249.04 L704.15,249.12 L705.15,249.19 L706.15,249.25 L707.15,249.31 L708.14,249.36 L709.14,249.40 L710.14,249.44 L711.14,249.48 L712.14,249.51 L713.14,249.54 L714.14,249.57 L715.14,249.59 L716.14,249.61 L717.14,249.63 L718.14,249.64 L719.14,249.66 L720.14,249.67 L721.14,249.69 L722.14,249.70 L723.14,249.72 L724.13,249.73 L725.12,249.74 L726.11,249.75 L727.09,249.76 L728.07,249.78 L729.04,249.79 L730.00,249.80" stroke="#1b7587"/>
<path d="M410.00,12.50 L411.00,12.50 L412.00,12.50 L413.00,12.50 L414.00,12.51 L415.00,12.51 L416.00,12.51 L417.00,12.51 L418.00,12.51 L419.00,12.51 L420.00,12.51 L421.00,12.51 L422.00,12.51 L423.00,12.51 L424.00,12.52 L425.00,12.52 L426.00,12.52 L427.00,12.52 L428.00,12.52 L429.00,12.52 L430.00,12.52 L431.00,12.53 L432.00,12.53 L433.00,12.53 L434.00,12.53 L435.00,12.54 L436.00,12.54 L437.00,12.55 L438.00,12.55 L439.00,12.56 L440.00,12.56 L441.00,12.57 L442.00,12.58 L443.00,12.59 L444.00,12.60 L445.00,12.61 L446.00,12.63 L447.00,12.66 L448.00,12.69 L448.99,12.74 L449.99,12.80 L450.99,12.88 L451.98,12.98 L452.97,13.10 L453.96,13.24 L454.94,13.41 L455.92,13.59 L456.90,13.80 L457.87,14.02 L458.84,14.27 L459.80,14.54 L460.75,14.83 L461.70,15.15 L462.64,15.48 L463.57,15.84 L464.49,16.22 L465.40,16.62 L466.31,17.04 L467.21,17.48 L468.10,17.93 L468.99,18.39 L469.86,18.87 L470.73,19.36 L471.60,19.86 L472.45,20.38 L473.29,20.91 L474.13,21.46 L474.95,22.03 L475.76,22.61 L476.56,23.21 L477.35,23.82 L478.13,24.44 L478.90,25.08 L479.66,25.72 L480.41,26.38 L481.16,27.05 L481.89,27.73 L482.61,28.42 L483.32,29.12 L484.02,29.83 L484.72,30.55 L485.40,31.29 L486.06,32.03 L486.72,32.78 L487.36,33.55 L487.97,34.33 L488.57,35.13 L489.14,35.95 L489.69,36.78 L490.21,37.62 L490.72,38.48 L491.21,39.36 L491.68,40.23 L492.14,41.12 L492.60,42.01 L493.06,42.90 L493.51,43.79 L493.97,44.68 L494.42,45.57 L494.87,46.46 L495.32,47.36 L495.77,48.25 L496.21,49.15 L496.65,50.04 L497.09,50.94 L497.53,51.84 L497.96,52.74 L498.39,53.65 L498.81,54.55 L499.23,55.46 L499.64,56.37 L500.05,57.29 L500.44,58.20 L500.83,59.12 L501.22,60.04 L501.61,60.97 L501.99,61.89 L502.38,62.81 L502.77,63.73 L503.18,64.64 L503.60,65.55 L504.03,66.45 L504.47,67.34 L504.93,68.23 L505.41,69.11 L505.90,69.98 L506.39,70.85 L506.90,71.71 L507.41,72.57 L507.92,73.43 L508.43,74.29 L508.94,75.15 L509.43,76.01 L509.91,76.89 L510.35,77.78 L510.77,78.68 L511.15,79.59 L511.48,80.52 L511.79,81.47 L512.07,82.42 L512.32,83.39 L512.56,84.36 L512.80,85.33 L513.02,86.30 L513.25,87.27 L513.48,88.25 L513.72,89.22 L513.96,90.19 L514.21,91.16 L514.47,92.12 L514.74,93.08 L515.01,94.04 L515.30,95.00 L515.60,95.95 L515.92,96.90 L516.24,97.85 L516.59,98.79 L516.94,99.72 L517.32,100.64 L517.71,101.56 L518.11,102.48 L518.53,103.39 L518.95,104.29 L519.38,105.19 L519.81,106.10 L520.24,107.00 L520.68,107.90 L521.11,108.80 L521.54,109.70 L521.97,110.60 L522.40,111.51 L522.84,112.41 L523.27,113.31 L523.70,114.21 L524.14,115.11 L524.58,116.01 L525.02,116.91 L525.46,117.80 L525.91,118.70 L526.36,119.59 L526.82,120.48 L527.27,121.37 L527.74,122.26 L528.20,123.14 L528.67,124.02 L529.15,124.90 L529.63,125.78 L530.11,126.65 L530.60,127.53 L531.08,128.40 L531.57,129.28 L532.05,130.15 L532.53,131.03 L533.01,131.91 L533.48,132.79 L533.95,133.67 L534.41,134.56 L534.88,135.44 L535.36,136.32 L535.83,137.20 L536.32,138.07 L536.81,138.94 L537.31,139.81 L537.82,140.67 L538.34,141.52 L538.86,142.38 L539.39,143.22 L539.93,144.06 L540.48,144.90 L541.03,145.74 L541.58,146.57 L542.14,147.40 L542.70,148.23 L543.26,149.06 L543.82,149.88 L544.39,150.71 L544.95,151.53 L545.52,152.35 L546.09,153.18 L546.66,154.00 L547.23,154.82 L547.81,155.64 L548.38,156.45 L548.96,157.27 L549.55,158.08 L550.15,158.88 L550.76,159.67 L551.37,160.45 L552.00,161.23 L552.63,162.00 L553.27,162.78 L553.90,163.55 L554.53,164.33 L555.14,165.11 L555.74,165.91 L556.33,166.72 L556.90,167.54 L557.47,168.36 L558.02,169.19 L558.58,170.02 L559.14,170.85 L559.71,171.67 L560.28,172.48 L560.88,173.29 L561.49,174.08 L562.11,174.86 L562.75,175.63 L563.39,176.39 L564.05,177.14 L564.71,177.90 L565.37,178.65 L566.02,179.40 L566.67,180.16 L567.32,180.92 L567.96,181.69 L568.60,182.46 L569.23,183.24 L569.86,184.01 L570.48,184.79 L571.11,185.57 L571.74,186.35 L572.38,187.12 L573.02,187.88 L573.67,188.64 L574.33,189.40 L574.99,190.14 L575.67,190.88 L576.35,191.61 L577.03,192.34 L577.72,193.06 L578.42,193.78 L579.11,194.50 L579.80,195.22 L580.50,195.94 L581.20,196.65 L581.91,197.36 L582.62,198.05 L583.35,198.73 L584.10,199.39 L584.86,200.04 L585.64,200.66 L586.42,201.27 L587.22,201.87 L588.03,202.47 L588.83,203.06 L589.64,203.65 L590.45,204.24 L591.25,204.83 L592.06,205.42 L592.87,206.01 L593.68,206.59 L594.49,207.17 L595.31,207.75 L596.13,208.32 L596.96,208.88 L597.79,209.44 L598.62,209.99 L599.45,210.55 L600.27,211.12 L601.09,211.69 L601.91,212.26 L602.72,212.85 L603.53,213.44 L604.33,214.04 L605.12,214.65 L605.91,215.26 L606.69,215.88 L607.47,216.51 L608.24,217.15 L609.00,217.80 L609.75,218.46 L610.49,219.13 L611.21,219.81 L611.92,220.51 L612.62,221.23 L613.30,221.96 L613.97,222.69 L614.64,223.43 L615.31,224.17 L615.98,224.91 L616.66,225.64 L617.35,226.37 L618.05,227.08 L618.76,227.78 L619.48,228.47 L620.21,229.15 L620.96,229.82 L621.71,230.47 L622.48,231.10 L623.27,231.71 L624.08,232.29 L624.90,232.84 L625.75,233.36 L626.62,233.83 L627.51,234.27 L628.42,234.66 L629.34,235.02 L630.28,235.35 L631.23,235.65 L632.19,235.93 L633.15,236.19 L634.12,236.43 L635.09,236.67 L636.07,236.89 L637.04,237.11 L638.02,237.33 L638.99,237.55 L639.97,237.77 L640.95,237.98 L641.92,238.20 L642.90,238.41 L643.88,238.62 L644.85,238.84 L645.83,239.04 L646.81,239.25 L647.79,239.45 L648.77,239.65 L649.75,239.85 L650.73,240.05 L651.71,240.25 L652.69,240.45 L653.67,240.65 L654.65,240.86 L655.62,241.07 L656.60,241.29 L657.58,241.51 L658.55,241.73 L659.52,241.95 L660.50,242.18 L661.47,242.41 L662.45,242.63 L663.42,242.86 L664.40,243.08 L665.37,243.30 L666.35,243.52 L667.32,243.73 L668.30,243.94 L669.28,244.15 L670.26,244.35 L671.24,244.55 L672.22,244.75 L673.20,244.95 L674.18,245.14 L675.16,245.33 L676.14,245.52 L677.13,245.71 L678.11,245.90 L679.09,246.09 L680.07,246.28 L681.05,246.47 L682.04,246.65 L683.02,246.83 L684.00,247.01 L684.99,247.19 L685.97,247.36 L686.96,247.52 L687.95,247.67 L688.94,247.82 L689.93,247.96 L690.92,248.09 L691.91,248.21 L692.90,248.33 L693.90,248.43 L694.89,248.53 L695.89,248.63 L696.88,248.72 L697.88,248.80 L698.88,248.88 L699.87,248.96 L700.87,249.03 L701.87,249.10 L702.87,249.16 L703.86,249.21 L704.86,249.26 L705.86,249.31 L706.86,249.35 L707.86,249.39 L708.86,249.43 L709.86,249.46 L710.86,249.49 L711.86,249.51 L712.86,249.53 L713.86,249.56 L714.86,249.58 L715.86,249.60 L716.86,249.61 L717.86,249.63 L718.86,249.65 L719.86,249.66 L720.86,249.67 L721.86,249.69 L722.85,249.70 L723.85,249.72 L724.83,249.73 L725.81,249.74 L726.77,249.76 L727.71,249.77 L728.64,249.78 L729.55,249.79 L730.00,249.80" stroke="#6dbd80"/>
<path d="M410.00,12.50 L411.00,12.52 L412.00,12.54 L413.00,12.56 L414.00,12.58 L415.00,12.59 L416.00,12.61 L417.00,12.63 L418.00,12.65 L419.00,12.67 L420.00,12.69 L421.00,12.71 L422.00,12.72 L423.00,12.74 L424.00,12.76 L425.00,12.78 L426.00,12.80 L427.00,12.82 L428.00,12.84 L429.00,12.86 L430.00,12.88 L431.00,12.90 L432.00,12.92 L433.00,12.94 L434.00,12.96 L435.00,12.98 L436.00,13.01 L436.99,13.03 L437.99,13.05 L438.99,13.07 L439.99,13.10 L440.99,13.12 L441.99,13.14 L442.99,13.17 L443.99,13.20 L444.99,13.23 L445.99,13.28 L446.98,13.35 L447.98,13.43 L448.97,13.54 L449.95,13.68 L450.93,13.86 L451.91,14.06 L452.87,14.29 L453.84,14.55 L454.79,14.84 L455.74,15.16 L456.68,15.49 L457.61,15.84 L458.54,16.21 L459.46,16.60 L460.37,17.00 L461.27,17.43 L462.16,17.88 L463.04,18.35 L463.90,18.85 L464.74,19.38 L465.57,19.93 L466.38,20.51 L467.18,21.11 L467.96,21.73 L468.72,22.37 L469.48,23.03 L470.22,23.70 L470.95,24.38 L471.67,25.07 L472.38,25.77 L473.08,26.49 L473.76,27.21 L474.44,27.95 L475.10,28.70 L475.74,29.46 L476.37,30.23 L476.98,31.02 L477.57,31.83 L478.14,32.64 L478.70,33.48 L479.23,34.32 L479.76,35.17 L480.27,36.02 L480.77,36.89 L481.26,37.76 L481.74,38.63 L482.20,39.52 L482.64,40.42 L483.06,41.32 L483.47,42.23 L483.86,43.15 L484.25,44.07 L484.63,45.00 L485.00,45.92 L485.37,46.85 L485.75,47.78 L486.12,48.71 L486.50,49.63 L486.88,50.56 L487.26,51.48 L487.65,52.40 L488.05,53.32 L488.45,54.23 L488.86,55.15 L489.27,56.06 L489.68,56.97 L490.10,57.88 L490.51,58.79 L490.91,59.70 L491.31,60.62 L491.70,61.54 L492.09,62.46 L492.47,63.39 L492.84,64.31 L493.22,65.24 L493.60,66.16 L493.98,67.09 L494.37,68.01 L494.76,68.93 L495.16,69.85 L495.55,70.77 L495.96,71.68 L496.36,72.60 L496.77,73.51 L497.17,74.42 L497.58,75.34 L497.98,76.25 L498.38,77.17 L498.78,78.09 L499.17,79.01 L499.56,79.93 L499.96,80.84 L500.36,81.76 L500.76,82.68 L501.17,83.59 L501.59,84.50 L502.02,85.40 L502.45,86.30 L502.89,87.20 L503.33,88.10 L503.77,89.00 L504.21,89.89 L504.64,90.79 L505.08,91.69 L505.50,92.60 L505.92,93.51 L506.34,94.42 L506.75,95.33 L507.15,96.24 L507.54,97.16 L507.93,98.08 L508.31,99.01 L508.67,99.94 L509.03,100.87 L509.37,101.81 L509.71,102.75 L510.04,103.69 L510.37,104.64 L510.70,105.58 L511.04,106.52 L511.38,107.46 L511.73,108.40 L512.09,109.33 L512.45,110.26 L512.83,111.19 L513.20,112.12 L513.59,113.04 L513.98,113.96 L514.37,114.88 L514.77,115.79 L515.18,116.71 L515.60,117.62 L516.02,118.52 L516.45,119.42 L516.89,120.32 L517.33,121.22 L517.78,122.11 L518.23,123.00 L518.68,123.90 L519.13,124.79 L519.58,125.68 L520.03,126.58 L520.47,127.47 L520.91,128.37 L521.35,129.27 L521.78,130.17 L522.21,131.08 L522.63,131.98 L523.04,132.89 L523.45,133.81 L523.85,134.72 L524.26,135.63 L524.67,136.55 L525.08,137.46 L525.50,138.36 L525.93,139.27 L526.35,140.17 L526.78,141.08 L527.20,141.99 L527.62,142.89 L528.04,143.80 L528.45,144.71 L528.85,145.63 L529.25,146.54 L529.65,147.46 L530.04,148.38 L530.43,149.30 L530.82,150.22 L531.20,151.15 L531.59,152.07 L531.98,152.99 L532.37,153.91 L532.78,154.82 L533.21,155.72 L533.66,156.61 L534.13,157.48 L534.63,158.34 L535.17,159.17 L535.72,160.00 L536.30,160.81 L536.90,161.61 L537.51,162.40 L538.13,163.19 L538.75,163.97 L539.39,164.74 L540.03,165.51 L540.68,166.27 L541.33,167.02 L542.00,167.77 L542.67,168.51 L543.35,169.24 L544.03,169.97 L544.72,170.70 L545.41,171.42 L546.10,172.14 L546.80,172.86 L547.50,173.57 L548.20,174.29 L548.90,175.00 L549.61,175.71 L550.31,176.41 L551.02,177.12 L551.73,177.83 L552.44,178.53 L553.14,179.24 L553.85,179.95 L554.55,180.67 L555.24,181.38 L555.93,182.11 L556.62,182.84 L557.30,183.57 L557.97,184.30 L558.65,185.04 L559.33,185.77 L560.01,186.50 L560.70,187.23 L561.40,187.94 L562.11,188.64 L562.83,189.34 L563.56,190.02 L564.29,190.70 L565.04,191.36 L565.79,192.02 L566.55,192.67 L567.31,193.32 L568.08,193.96 L568.84,194.60 L569.61,195.24 L570.38,195.88 L571.16,196.51 L571.93,197.15 L572.70,197.78 L573.48,198.42 L574.25,199.05 L575.02,199.69 L575.79,200.32 L576.56,200.96 L577.34,201.60 L578.11,202.23 L578.88,202.86 L579.66,203.50 L580.43,204.13 L581.21,204.75 L582.00,205.37 L582.79,205.98 L583.59,206.59 L584.39,207.18 L585.20,207.76 L586.02,208.33 L586.85,208.89 L587.69,209.43 L588.53,209.97 L589.38,210.49 L590.24,211.01 L591.10,211.52 L591.96,212.03 L592.82,212.54 L593.68,213.04 L594.55,213.54 L595.41,214.05 L596.27,214.55 L597.13,215.07 L597.98,215.59 L598.83,216.12 L599.66,216.67 L600.48,217.24 L601.30,217.81 L602.10,218.40 L602.90,219.00 L603.70,219.61 L604.49,220.21 L605.29,220.82 L606.09,221.42 L606.89,222.01 L607.70,222.60 L608.52,223.17 L609.34,223.74 L610.17,224.29 L611.01,224.84 L611.85,225.39 L612.69,225.93 L613.52,226.47 L614.36,227.02 L615.18,227.59 L616.00,228.16 L616.80,228.75 L617.60,229.35 L618.40,229.96 L619.19,230.56 L619.99,231.17 L620.79,231.77 L621.59,232.36 L622.41,232.94 L623.23,233.50 L624.06,234.05 L624.91,234.58 L625.76,235.09 L626.63,235.58 L627.52,236.04 L628.41,236.48 L629.32,236.89 L630.24,237.28 L631.16,237.65 L632.10,237.99 L633.04,238.32 L633.99,238.63 L634.95,238.93 L635.90,239.21 L636.87,239.48 L637.83,239.75 L638.80,240.01 L639.76,240.26 L640.73,240.50 L641.71,240.73 L642.68,240.96 L643.66,241.17 L644.64,241.37 L645.62,241.55 L646.60,241.73 L647.59,241.89 L648.57,242.05 L649.56,242.20 L650.55,242.34 L651.54,242.48 L652.53,242.62 L653.52,242.76 L654.51,242.90 L655.50,243.04 L656.49,243.19 L657.48,243.33 L658.47,243.48 L659.46,243.63 L660.45,243.78 L661.44,243.93 L662.42,244.08 L663.41,244.24 L664.40,244.39 L665.39,244.54 L666.38,244.69 L667.37,244.83 L668.36,244.98 L669.35,245.13 L670.34,245.27 L671.33,245.41 L672.32,245.56 L673.30,245.70 L674.29,245.85 L675.28,245.99 L676.27,246.14 L677.26,246.29 L678.25,246.43 L679.24,246.59 L680.23,246.74 L681.22,246.89 L682.20,247.05 L683.19,247.20 L684.18,247.35 L685.17,247.50 L686.16,247.65 L687.15,247.79 L688.14,247.93 L689.13,248.06 L690.12,248.19 L691.11,248.31 L692.11,248.43 L693.10,248.54 L694.09,248.65 L695.09,248.75 L696.08,248.84 L697.08,248.93 L698.08,249.01 L699.07,249.09 L700.07,249.16 L701.07,249.23 L702.07,249.29 L703.06,249.34 L704.06,249.39 L705.06,249.43 L706.06,249.46 L707.06,249.49 L708.06,249.52 L709.06,249.55 L710.06,249.57 L711.06,249.59 L712.06,249.61 L713.06,249.63 L714.06,249.64 L715.06,249.65 L716.06,249.67 L717.06,249.68 L718.06,249.69 L719.06,249.70 L720.06,249.71 L721.06,249.72 L722.06,249.73 L723.06,249.74 L724.06,249.75 L725.05,249.76 L726.05,249.77 L727.04,249.77 L728.03,249.78 L729.02,249.79 L730.00,249.80" stroke="#fdb52a"/>
</g>
<g stroke="#000"><line x1="420.00" y1="12.40" x2="420.00" y2="251.20" stroke-width="1.35"/><line x1="724.35" y1="12.40" x2="724.35" y2="251.20" stroke-width="1.35"/><line x1="419.35" y1="12.55" x2="725.00" y2="12.55" stroke-width="1.1"/><line x1="419.35" y1="250.60" x2="725.00" y2="250.60" stroke-width="1.1"/></g>
<g stroke="#000" stroke-width="1.15"><line x1="416.00" y1="250.50" x2="420.00" y2="250.50"/><line x1="416.00" y1="202.90" x2="420.00" y2="202.90"/><line x1="416.00" y1="155.30" x2="420.00" y2="155.30"/><line x1="416.00" y1="107.70" x2="420.00" y2="107.70"/><line x1="416.00" y1="60.10" x2="420.00" y2="60.10"/><line x1="416.00" y1="12.50" x2="420.00" y2="12.50"/><line x1="420.00" y1="250.50" x2="420.00" y2="254.50"/><line x1="502.29" y1="250.50" x2="502.29" y2="254.50"/><line x1="584.59" y1="250.50" x2="584.59" y2="254.50"/><line x1="666.88" y1="250.50" x2="666.88" y2="254.50"/><line x1="444.77" y1="250.50" x2="444.77" y2="252.80"/><line x1="459.26" y1="250.50" x2="459.26" y2="252.80"/><line x1="469.55" y1="250.50" x2="469.55" y2="252.80"/><line x1="477.52" y1="250.50" x2="477.52" y2="252.80"/><line x1="484.04" y1="250.50" x2="484.04" y2="252.80"/><line x1="489.55" y1="250.50" x2="489.55" y2="252.80"/><line x1="494.32" y1="250.50" x2="494.32" y2="252.80"/><line x1="498.53" y1="250.50" x2="498.53" y2="252.80"/><line x1="527.07" y1="250.50" x2="527.07" y2="252.80"/><line x1="541.56" y1="250.50" x2="541.56" y2="252.80"/><line x1="551.84" y1="250.50" x2="551.84" y2="252.80"/><line x1="559.81" y1="250.50" x2="559.81" y2="252.80"/><line x1="566.33" y1="250.50" x2="566.33" y2="252.80"/><line x1="571.84" y1="250.50" x2="571.84" y2="252.80"/><line x1="576.61" y1="250.50" x2="576.61" y2="252.80"/><line x1="580.82" y1="250.50" x2="580.82" y2="252.80"/><line x1="609.36" y1="250.50" x2="609.36" y2="252.80"/><line x1="623.85" y1="250.50" x2="623.85" y2="252.80"/><line x1="634.13" y1="250.50" x2="634.13" y2="252.80"/><line x1="642.11" y1="250.50" x2="642.11" y2="252.80"/><line x1="648.62" y1="250.50" x2="648.62" y2="252.80"/><line x1="654.13" y1="250.50" x2="654.13" y2="252.80"/><line x1="658.90" y1="250.50" x2="658.90" y2="252.80"/><line x1="663.11" y1="250.50" x2="663.11" y2="252.80"/><line x1="691.65" y1="250.50" x2="691.65" y2="252.80"/><line x1="706.14" y1="250.50" x2="706.14" y2="252.80"/><line x1="716.42" y1="250.50" x2="716.42" y2="252.80"/><line x1="724.40" y1="250.50" x2="724.40" y2="252.80"/></g>
<g transform="translate(40.60,254.80) scale(1.1000,1)"><text font-size="12.20" text-anchor="end">0.0</text></g>
<g transform="translate(40.60,207.20) scale(1.1000,1)"><text font-size="12.20" text-anchor="end">0.2</text></g>
<g transform="translate(40.60,159.60) scale(1.1000,1)"><text font-size="12.20" text-anchor="end">0.4</text></g>
<g transform="translate(40.60,112.00) scale(1.1000,1)"><text font-size="12.20" text-anchor="end">0.6</text></g>
<g transform="translate(40.60,64.40) scale(1.1000,1)"><text font-size="12.20" text-anchor="end">0.8</text></g>
<g transform="translate(40.60,16.80) scale(1.1000,1)"><text font-size="12.20" text-anchor="end">1.0</text></g>
<g transform="translate(35.60,268.20) scale(1.1000,1)"><text font-size="12.20">10</text></g>
<g transform="translate(50.80,263.40) scale(1.1000,1)"><text font-size="8.6">−3</text></g>
<g transform="translate(117.92,268.20) scale(1.1000,1)"><text font-size="12.20">10</text></g>
<g transform="translate(133.12,263.40) scale(1.1000,1)"><text font-size="8.6">−2</text></g>
<g transform="translate(200.24,268.20) scale(1.1000,1)"><text font-size="12.20">10</text></g>
<g transform="translate(215.44,263.40) scale(1.1000,1)"><text font-size="8.6">−1</text></g>
<g transform="translate(286.36,268.20) scale(1.1000,1)"><text font-size="12.20">10</text></g>
<g transform="translate(300.36,263.40) scale(1.1000,1)"><text font-size="8.6">0</text></g>
<g transform="translate(155.80,285.10) scale(1.1200,1)"><text font-size="12.2">Total strain, <tspan font-style="italic">ε</tspan><tspan font-style="italic" font-size="8.6" dy="1.9">tot</tspan></text></g>
<g transform="translate(14.30,220.90) rotate(-90) scale(1.0800,1)"><text font-size="12.2">Cum. target mass,</text></g>
<g transform="translate(14.30,111.00) rotate(-90) scale(1.1200,1)"><text font-size="12.2"><tspan font-style="italic">M</tspan>( &gt; <tspan font-style="italic">ε</tspan><tspan font-style="italic" font-size="8.6" dy="1.9">tot</tspan><tspan dy="-1.9">)/</tspan><tspan font-style="italic">M</tspan><tspan font-style="italic" font-size="8.6" dy="1.9">t</tspan></text></g>
<g transform="translate(411.60,254.80) scale(1.1000,1)"><text font-size="12.20" text-anchor="end">0.0</text></g>
<g transform="translate(411.60,207.20) scale(1.1000,1)"><text font-size="12.20" text-anchor="end">0.2</text></g>
<g transform="translate(411.60,159.60) scale(1.1000,1)"><text font-size="12.20" text-anchor="end">0.4</text></g>
<g transform="translate(411.60,112.00) scale(1.1000,1)"><text font-size="12.20" text-anchor="end">0.6</text></g>
<g transform="translate(411.60,64.40) scale(1.1000,1)"><text font-size="12.20" text-anchor="end">0.8</text></g>
<g transform="translate(411.60,16.80) scale(1.1000,1)"><text font-size="12.20" text-anchor="end">1.0</text></g>
<g transform="translate(406.60,268.20) scale(1.1000,1)"><text font-size="12.20">10</text></g>
<g transform="translate(421.80,263.40) scale(1.1000,1)"><text font-size="8.6">−3</text></g>
<g transform="translate(488.89,268.20) scale(1.1000,1)"><text font-size="12.20">10</text></g>
<g transform="translate(504.09,263.40) scale(1.1000,1)"><text font-size="8.6">−2</text></g>
<g transform="translate(571.19,268.20) scale(1.1000,1)"><text font-size="12.20">10</text></g>
<g transform="translate(586.39,263.40) scale(1.1000,1)"><text font-size="8.6">−1</text></g>
<g transform="translate(657.28,268.20) scale(1.1000,1)"><text font-size="12.20">10</text></g>
<g transform="translate(671.28,263.40) scale(1.1000,1)"><text font-size="8.6">0</text></g>
<g transform="translate(526.80,285.10) scale(1.1200,1)"><text font-size="12.2">Total strain, <tspan font-style="italic">ε</tspan><tspan font-style="italic" font-size="8.6" dy="1.9">tot</tspan></text></g>
<g transform="translate(385.30,220.90) rotate(-90) scale(1.0800,1)"><text font-size="12.2">Cum. target mass,</text></g>
<g transform="translate(385.30,111.00) rotate(-90) scale(1.1200,1)"><text font-size="12.2"><tspan font-style="italic">M</tspan>( &gt; <tspan font-style="italic">ε</tspan><tspan font-style="italic" font-size="8.6" dy="1.9">tot</tspan><tspan dy="-1.9">)/</tspan><tspan font-style="italic">M</tspan><tspan font-style="italic" font-size="8.6" dy="1.9">t</tspan></text></g>
<g transform="translate(-0.70,12.20)"><text font-size="17.3" font-weight="bold">a</text></g>
<g transform="translate(11.20,11.90) scale(1.2000,1)"><text font-size="15.6" font-weight="bold">)</text></g>
<g transform="translate(370.30,12.40) scale(1.1000,1)"><text font-size="17.3" font-weight="bold">b</text></g>
<g transform="translate(382.20,11.90) scale(1.2000,1)"><text font-size="15.6" font-weight="bold">)</text></g>
<rect x="212.80" y="17.60" width="135.40" height="65.50" rx="2.6" ry="2.6" fill="#fff" fill-opacity="0.8" stroke="#d2d2d2" stroke-width="1.15"/>
<line x1="216.30" y1="26.40" x2="238.80" y2="26.40" stroke="#021342" stroke-width="1.75"/>
<g transform="translate(246.80,30.20) scale(1.0800,1)"><text font-size="10.4">Sphere, <tspan font-style="italic">Y</tspan><tspan font-size="7.7" dy="1.3">0</tspan><tspan dy="-1.3"> = 0 Pa</tspan></text></g>
<line x1="216.30" y1="42.15" x2="238.80" y2="42.15" stroke="#1b7587" stroke-width="1.75"/>
<g transform="translate(246.80,45.95) scale(1.0800,1)"><text font-size="10.4">Sphere, <tspan font-style="italic">Y</tspan><tspan font-size="7.7" dy="1.3">0</tspan><tspan dy="-1.3"> = 1 Pa</tspan></text></g>
<line x1="216.30" y1="58.00" x2="238.80" y2="58.00" stroke="#6dbd80" stroke-width="1.75"/>
<g transform="translate(246.80,61.80) scale(1.0800,1)"><text font-size="10.4">Sphere, <tspan font-style="italic">Y</tspan><tspan font-size="7.7" dy="1.3">0</tspan><tspan dy="-1.3"> = 10 Pa</tspan></text></g>
<line x1="216.30" y1="73.60" x2="238.80" y2="73.60" stroke="#fdb52a" stroke-width="1.75"/>
<g transform="translate(246.80,77.40) scale(1.0800,1)"><text font-size="10.4">Sphere, <tspan font-style="italic">Y</tspan><tspan font-size="7.7" dy="1.3">0</tspan><tspan dy="-1.3"> = 50 Pa</tspan></text></g>
<rect x="603.30" y="17.60" width="116.00" height="65.50" rx="2.6" ry="2.6" fill="#fff" fill-opacity="0.8" stroke="#d2d2d2" stroke-width="1.15"/>
<line x1="607.00" y1="26.40" x2="629.80" y2="26.40" stroke="#021342" stroke-width="1.75"/>
<g transform="translate(637.60,30.20) scale(1.0800,1)"><text font-size="10.4">Sphere,</text></g>
<g transform="translate(680.60,30.20) scale(1.1600,1)"><text font-size="10.4"><tspan font-style="italic">f</tspan> = 0.4</text></g>
<line x1="607.00" y1="42.15" x2="629.80" y2="42.15" stroke="#1b7587" stroke-width="1.75"/>
<g transform="translate(637.60,45.95) scale(1.0800,1)"><text font-size="10.4">Sphere,</text></g>
<g transform="translate(680.60,45.95) scale(1.1600,1)"><text font-size="10.4"><tspan font-style="italic">f</tspan> = 0.6</text></g>
<line x1="607.00" y1="58.00" x2="629.80" y2="58.00" stroke="#6dbd80" stroke-width="1.75"/>
<g transform="translate(637.60,61.80) scale(1.0800,1)"><text font-size="10.4">Sphere,</text></g>
<g transform="translate(680.60,61.80) scale(1.1600,1)"><text font-size="10.4"><tspan font-style="italic">f</tspan> = 0.8</text></g>
<line x1="607.00" y1="73.60" x2="629.80" y2="73.60" stroke="#fdb52a" stroke-width="1.75"/>
<g transform="translate(637.60,77.40) scale(1.0800,1)"><text font-size="10.4">Sphere,</text></g>
<g transform="translate(680.60,77.40) scale(1.1600,1)"><text font-size="10.4"><tspan font-style="italic">f</tspan> = 1.0</text></g>
</svg></body></html>
